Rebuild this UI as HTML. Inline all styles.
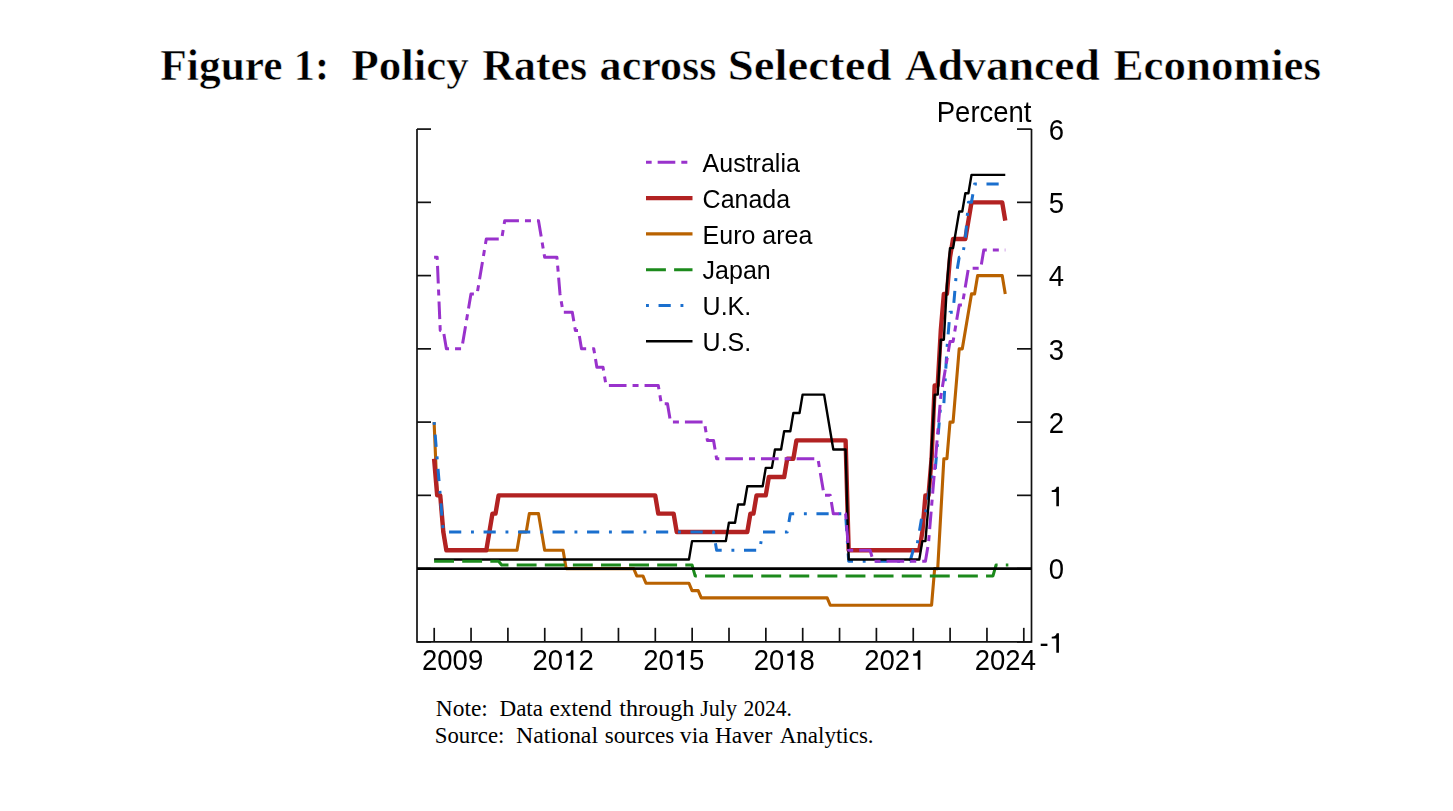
<!DOCTYPE html>
<html><head><meta charset="utf-8"><style>
html,body{margin:0;padding:0;background:#fff;}
body{width:1453px;height:811px;overflow:hidden;position:relative;}
svg{position:absolute;left:0;top:0;}
.title{font-family:"Liberation Serif",serif;font-weight:bold;font-size:44px;stroke:#fff;stroke-width:0.5px;}
.note{font-family:"Liberation Serif",serif;font-size:22.8px;}
.ax{font-family:"Liberation Sans",sans-serif;font-size:27.5px;fill:#000;}
.lg{font-family:"Liberation Sans",sans-serif;font-size:25px;fill:#000;}
.AU{stroke:#9932cc;stroke-width:3;fill:none;stroke-dasharray:6 6 17.65 6.03;stroke-dashoffset:0.35;stroke-linejoin:round;}
.CA{stroke:#b22222;stroke-width:4.4;fill:none;stroke-linejoin:round;}
.EU{stroke:#b96200;stroke-width:3.1;fill:none;stroke-linejoin:round;}
.JP{stroke:#1c8a1c;stroke-width:3;fill:none;stroke-dasharray:19.9 8.2;stroke-linejoin:round;}
.UK{stroke:#1a6fce;stroke-width:3;fill:none;stroke-dasharray:2.9 9.65 12.2 9.74;stroke-linejoin:round;}
.US{stroke:#000000;stroke-width:2.4;fill:none;stroke-linejoin:round;}
</style></head><body>
<svg width="1453" height="811" viewBox="0 0 1453 811">
<defs><filter id="gs" x="0" y="0" width="1" height="1" filterUnits="objectBoundingBox"><feColorMatrix type="saturate" values="0"/></filter></defs>
<text class="title" x="160.30" y="80" textLength="122.32" lengthAdjust="spacingAndGlyphs">Figure</text>
<text class="title" x="293.71" y="80" textLength="35.31" lengthAdjust="spacingAndGlyphs">1:</text>
<text class="title" x="351.30" y="80" textLength="117.60" lengthAdjust="spacingAndGlyphs">Policy</text>
<text class="title" x="482.30" y="80" textLength="104.82" lengthAdjust="spacingAndGlyphs">Rates</text>
<text class="title" x="599.60" y="80" textLength="116.83" lengthAdjust="spacingAndGlyphs">across</text>
<text class="title" x="727.77" y="80" textLength="163.73" lengthAdjust="spacingAndGlyphs">Selected</text>
<text class="title" x="904.80" y="80" textLength="195.09" lengthAdjust="spacingAndGlyphs">Advanced</text>
<text class="title" x="1113.50" y="80" textLength="207.43" lengthAdjust="spacingAndGlyphs">Economies</text>

<g stroke="#111" stroke-width="1.7" fill="none">
<polyline points="417,129.10 417,641.85 1031.5,641.85 1031.5,129.10"/>
<line x1="417" y1="129.10" x2="431" y2="129.10"/><line x1="1017" y1="129.10" x2="1031.5" y2="129.10"/><line x1="417" y1="202.35" x2="431" y2="202.35"/><line x1="1017" y1="202.35" x2="1031.5" y2="202.35"/><line x1="417" y1="275.60" x2="431" y2="275.60"/><line x1="1017" y1="275.60" x2="1031.5" y2="275.60"/><line x1="417" y1="348.85" x2="431" y2="348.85"/><line x1="1017" y1="348.85" x2="1031.5" y2="348.85"/><line x1="417" y1="422.10" x2="431" y2="422.10"/><line x1="1017" y1="422.10" x2="1031.5" y2="422.10"/><line x1="417" y1="495.35" x2="431" y2="495.35"/><line x1="1017" y1="495.35" x2="1031.5" y2="495.35"/><line x1="417" y1="568.60" x2="431" y2="568.60"/><line x1="1017" y1="568.60" x2="1031.5" y2="568.60"/><line x1="417" y1="641.85" x2="431" y2="641.85"/><line x1="1017" y1="641.85" x2="1031.5" y2="641.85"/>
<line x1="434.20" y1="641.85" x2="434.20" y2="627.85"/><line x1="471.05" y1="641.85" x2="471.05" y2="627.85"/><line x1="507.90" y1="641.85" x2="507.90" y2="627.85"/><line x1="544.75" y1="641.85" x2="544.75" y2="627.85"/><line x1="581.60" y1="641.85" x2="581.60" y2="627.85"/><line x1="618.45" y1="641.85" x2="618.45" y2="627.85"/><line x1="655.30" y1="641.85" x2="655.30" y2="627.85"/><line x1="692.15" y1="641.85" x2="692.15" y2="627.85"/><line x1="729.00" y1="641.85" x2="729.00" y2="627.85"/><line x1="765.85" y1="641.85" x2="765.85" y2="627.85"/><line x1="802.70" y1="641.85" x2="802.70" y2="627.85"/><line x1="839.55" y1="641.85" x2="839.55" y2="627.85"/><line x1="876.40" y1="641.85" x2="876.40" y2="627.85"/><line x1="913.25" y1="641.85" x2="913.25" y2="627.85"/><line x1="950.10" y1="641.85" x2="950.10" y2="627.85"/><line x1="986.95" y1="641.85" x2="986.95" y2="627.85"/><line x1="1023.80" y1="641.85" x2="1023.80" y2="627.85"/>
</g>
<g class="ax" filter="url(#gs)">
<text x="1031.5" y="0" transform="translate(0,121.6) scale(1,1.075)" text-anchor="end">Percent</text>
<text x="1048.71" y="0" transform="translate(0,139.90) scale(1,1.075)">6</text><text x="1048.71" y="0" transform="translate(0,213.15) scale(1,1.075)">5</text><text x="1048.71" y="0" transform="translate(0,286.40) scale(1,1.075)">4</text><text x="1048.71" y="0" transform="translate(0,359.65) scale(1,1.075)">3</text><text x="1048.71" y="0" transform="translate(0,432.90) scale(1,1.075)">2</text><path d="M0.372,0 L0.372,-0.707 L0.292,-0.707 C0.272,-0.615 0.2,-0.585 0.11,-0.58 L0.11,-0.515 L0.277,-0.515 L0.277,0 Z" transform="translate(1048.71,506.15) scale(27.5)"/><text x="1048.71" y="0" transform="translate(0,579.40) scale(1,1.075)">0</text><text x="1039.55" y="0" transform="translate(0,652.65) scale(1,1.075)">-</text><path d="M0.372,0 L0.372,-0.707 L0.292,-0.707 C0.272,-0.615 0.2,-0.585 0.11,-0.58 L0.11,-0.515 L0.277,-0.515 L0.277,0 Z" transform="translate(1048.71,652.65) scale(27.5)"/>
<text x="422.05" y="0" transform="translate(0,669.80) scale(1,1.075)">2009</text><text x="532.59" y="0" transform="translate(0,669.80) scale(1,1.075)">20</text><path d="M0.372,0 L0.372,-0.707 L0.292,-0.707 C0.272,-0.615 0.2,-0.585 0.11,-0.58 L0.11,-0.515 L0.277,-0.515 L0.277,0 Z" transform="translate(563.17,669.80) scale(27.5)"/><text x="578.46" y="0" transform="translate(0,669.80) scale(1,1.075)">2</text><text x="643.14" y="0" transform="translate(0,669.80) scale(1,1.075)">20</text><path d="M0.372,0 L0.372,-0.707 L0.292,-0.707 C0.272,-0.615 0.2,-0.585 0.11,-0.58 L0.11,-0.515 L0.277,-0.515 L0.277,0 Z" transform="translate(673.72,669.80) scale(27.5)"/><text x="689.01" y="0" transform="translate(0,669.80) scale(1,1.075)">5</text><text x="753.69" y="0" transform="translate(0,669.80) scale(1,1.075)">20</text><path d="M0.372,0 L0.372,-0.707 L0.292,-0.707 C0.272,-0.615 0.2,-0.585 0.11,-0.58 L0.11,-0.515 L0.277,-0.515 L0.277,0 Z" transform="translate(784.27,669.80) scale(27.5)"/><text x="799.56" y="0" transform="translate(0,669.80) scale(1,1.075)">8</text><text x="864.25" y="0" transform="translate(0,669.80) scale(1,1.075)">202</text><path d="M0.372,0 L0.372,-0.707 L0.292,-0.707 C0.272,-0.615 0.2,-0.585 0.11,-0.58 L0.11,-0.515 L0.277,-0.515 L0.277,0 Z" transform="translate(910.11,669.80) scale(27.5)"/><text x="974.79" y="0" transform="translate(0,669.80) scale(1,1.075)">2024</text>
</g>
<path class="EU" d="M434.10,422.10 L437.17,495.35 L440.24,495.35 L443.31,531.98 L446.38,550.29 L517.01,550.29 L520.08,531.98 L526.23,531.98 L529.30,513.66 L538.51,513.66 L544.65,550.29 L563.08,550.29 L566.15,568.60 L633.70,568.60 L636.78,575.93 L642.92,575.93 L645.99,583.25 L688.98,583.25 L692.05,590.58 L698.19,590.58 L701.26,597.90 L827.17,597.90 L830.24,605.23 L931.58,605.23 L934.65,568.60 L937.72,568.60 L943.86,458.73 L946.93,458.73 L950.00,422.10 L953.07,422.10 L959.21,348.85 L962.28,348.85 L971.50,293.91 L974.57,293.91 L977.64,275.60 L1002.20,275.60 L1005.27,293.91"/>
<path class="CA" d="M434.10,458.73 L437.17,495.35 L440.24,495.35 L443.31,531.98 L446.38,550.29 L486.30,550.29 L492.45,513.66 L495.52,513.66 L498.59,495.35 L655.20,495.35 L658.27,513.66 L673.62,513.66 L676.70,531.98 L747.33,531.98 L750.40,513.66 L753.47,513.66 L756.54,495.35 L765.75,495.35 L768.82,477.04 L784.17,477.04 L787.25,458.73 L793.39,458.73 L796.46,440.41 L845.59,440.41 L848.66,550.29 L919.29,550.29 L922.36,531.98 L925.43,495.35 L928.50,495.35 L931.58,458.73 L934.65,385.48 L937.72,385.48 L940.79,330.54 L943.86,293.91 L946.93,293.91 L950.00,257.29 L953.07,238.98 L965.35,238.98 L971.50,202.35 L1002.20,202.35 L1005.27,220.66"/>
<path class="UK" d="M434.10,422.10 L443.31,531.98 L713.55,531.98 L716.62,550.29 L759.61,550.29 L762.68,531.98 L787.25,531.98 L790.32,513.66 L845.59,513.66 L848.66,561.27 L910.08,561.27 L913.15,550.29 L916.22,550.29 L922.36,513.66 L925.43,513.66 L931.58,477.04 L934.65,477.04 L940.79,403.79 L943.86,403.79 L946.93,348.85 L950.00,312.23 L953.07,312.23 L956.14,275.60 L959.21,257.29 L962.28,257.29 L965.35,238.98 L968.43,202.35 L971.50,202.35 L974.57,184.04 L1005.27,184.04"/>
<path class="US" d="M434.10,559.44 L688.98,559.44 L692.05,541.13 L725.83,541.13 L728.90,522.82 L735.04,522.82 L738.11,504.51 L744.25,504.51 L747.33,486.19 L762.68,486.19 L765.75,467.88 L771.89,467.88 L774.96,449.57 L781.10,449.57 L784.17,431.26 L790.32,431.26 L793.39,412.94 L799.53,412.94 L802.60,394.63 L824.10,394.63 L833.31,449.57 L845.59,449.57 L848.66,559.44 L919.29,559.44 L922.36,541.13 L925.43,541.13 L928.50,504.51 L934.65,394.63 L937.72,394.63 L940.79,339.69 L943.86,339.69 L946.93,284.76 L950.00,248.13 L953.07,248.13 L959.21,211.51 L962.28,211.51 L965.35,193.19 L968.43,193.19 L971.50,174.88 L1005.27,174.88"/>
<path class="JP" d="M434.10,561.27 L498.59,561.27 L501.66,564.94 L692.05,564.94 L695.12,575.93 L992.99,575.93 L996.06,564.94 L1008.35,564.94"/>
<path class="AU" d="M434.10,257.29 L437.17,257.29 L440.24,330.54 L443.31,330.54 L446.38,348.85 L461.74,348.85 L470.95,293.91 L477.09,293.91 L486.30,238.98 L501.66,238.98 L504.73,220.66 L538.51,220.66 L544.65,257.29 L556.93,257.29 L560.00,293.91 L563.08,312.23 L572.29,312.23 L575.36,330.54 L578.43,330.54 L581.50,348.85 L593.78,348.85 L596.85,367.16 L603.00,367.16 L606.07,385.48 L658.27,385.48 L661.34,403.79 L667.48,403.79 L670.55,422.10 L704.33,422.10 L707.40,440.41 L713.55,440.41 L716.62,458.73 L817.95,458.73 L824.10,495.35 L830.24,495.35 L833.31,513.66 L845.59,513.66 L848.66,550.29 L870.16,550.29 L873.23,561.27 L925.43,561.27 L928.50,542.96 L940.79,396.46 L950.00,341.52 L953.07,341.52 L959.21,304.90 L962.28,304.90 L968.43,268.28 L980.71,268.28 L983.78,249.96 L1005.27,249.96"/>
<line x1="417" y1="568.60" x2="1031.5" y2="568.60" stroke="#000" stroke-width="2.9"/>
<line class="AU" x1="646" y1="162.30" x2="692.5" y2="162.30"/><line class="CA" x1="646" y1="198.10" x2="692.5" y2="198.10"/><line class="EU" x1="646" y1="233.90" x2="692.5" y2="233.90"/><line class="JP" x1="646" y1="269.70" x2="692.5" y2="269.70"/><line class="UK" x1="646" y1="305.50" x2="692.5" y2="305.50"/><line class="US" x1="646" y1="341.30" x2="692.5" y2="341.30"/>
<g class="lg" filter="url(#gs)"><text x="702.6" y="0" transform="translate(0,172.00) scale(1,1.04)">Australia</text><text x="702.6" y="0" transform="translate(0,207.80) scale(1,1.04)">Canada</text><text x="702.6" y="0" transform="translate(0,243.60) scale(1,1.04)">Euro area</text><text x="702.6" y="0" transform="translate(0,279.40) scale(1,1.04)">Japan</text><text x="702.6" y="0" transform="translate(0,315.20) scale(1,1.04)">U.K.</text><text x="702.6" y="0" transform="translate(0,351.00) scale(1,1.04)">U.S.</text></g>
<text class="note" x="435.80" y="716" textLength="51.97" lengthAdjust="spacingAndGlyphs">Note:</text>
<text class="note" x="499.50" y="716" textLength="43.52" lengthAdjust="spacingAndGlyphs">Data</text>
<text class="note" x="549.50" y="716" textLength="62.28" lengthAdjust="spacingAndGlyphs">extend</text>
<text class="note" x="619.30" y="716" textLength="75.06" lengthAdjust="spacingAndGlyphs">through</text>
<text class="note" x="700.20" y="716" textLength="36.82" lengthAdjust="spacingAndGlyphs">July</text>
<text class="note" x="743.56" y="716" textLength="48.40" lengthAdjust="spacingAndGlyphs">2024.</text>
<text class="note" x="434.80" y="743" textLength="69.53" lengthAdjust="spacingAndGlyphs">Source:</text>
<text class="note" x="516.00" y="743" textLength="82.05" lengthAdjust="spacingAndGlyphs">National</text>
<text class="note" x="604.80" y="743" textLength="69.37" lengthAdjust="spacingAndGlyphs">sources</text>
<text class="note" x="679.80" y="743" textLength="29.02" lengthAdjust="spacingAndGlyphs">via</text>
<text class="note" x="714.90" y="743" textLength="57.38" lengthAdjust="spacingAndGlyphs">Haver</text>
<text class="note" x="779.75" y="743" textLength="93.86" lengthAdjust="spacingAndGlyphs">Analytics.</text>

</svg>
</body></html>
